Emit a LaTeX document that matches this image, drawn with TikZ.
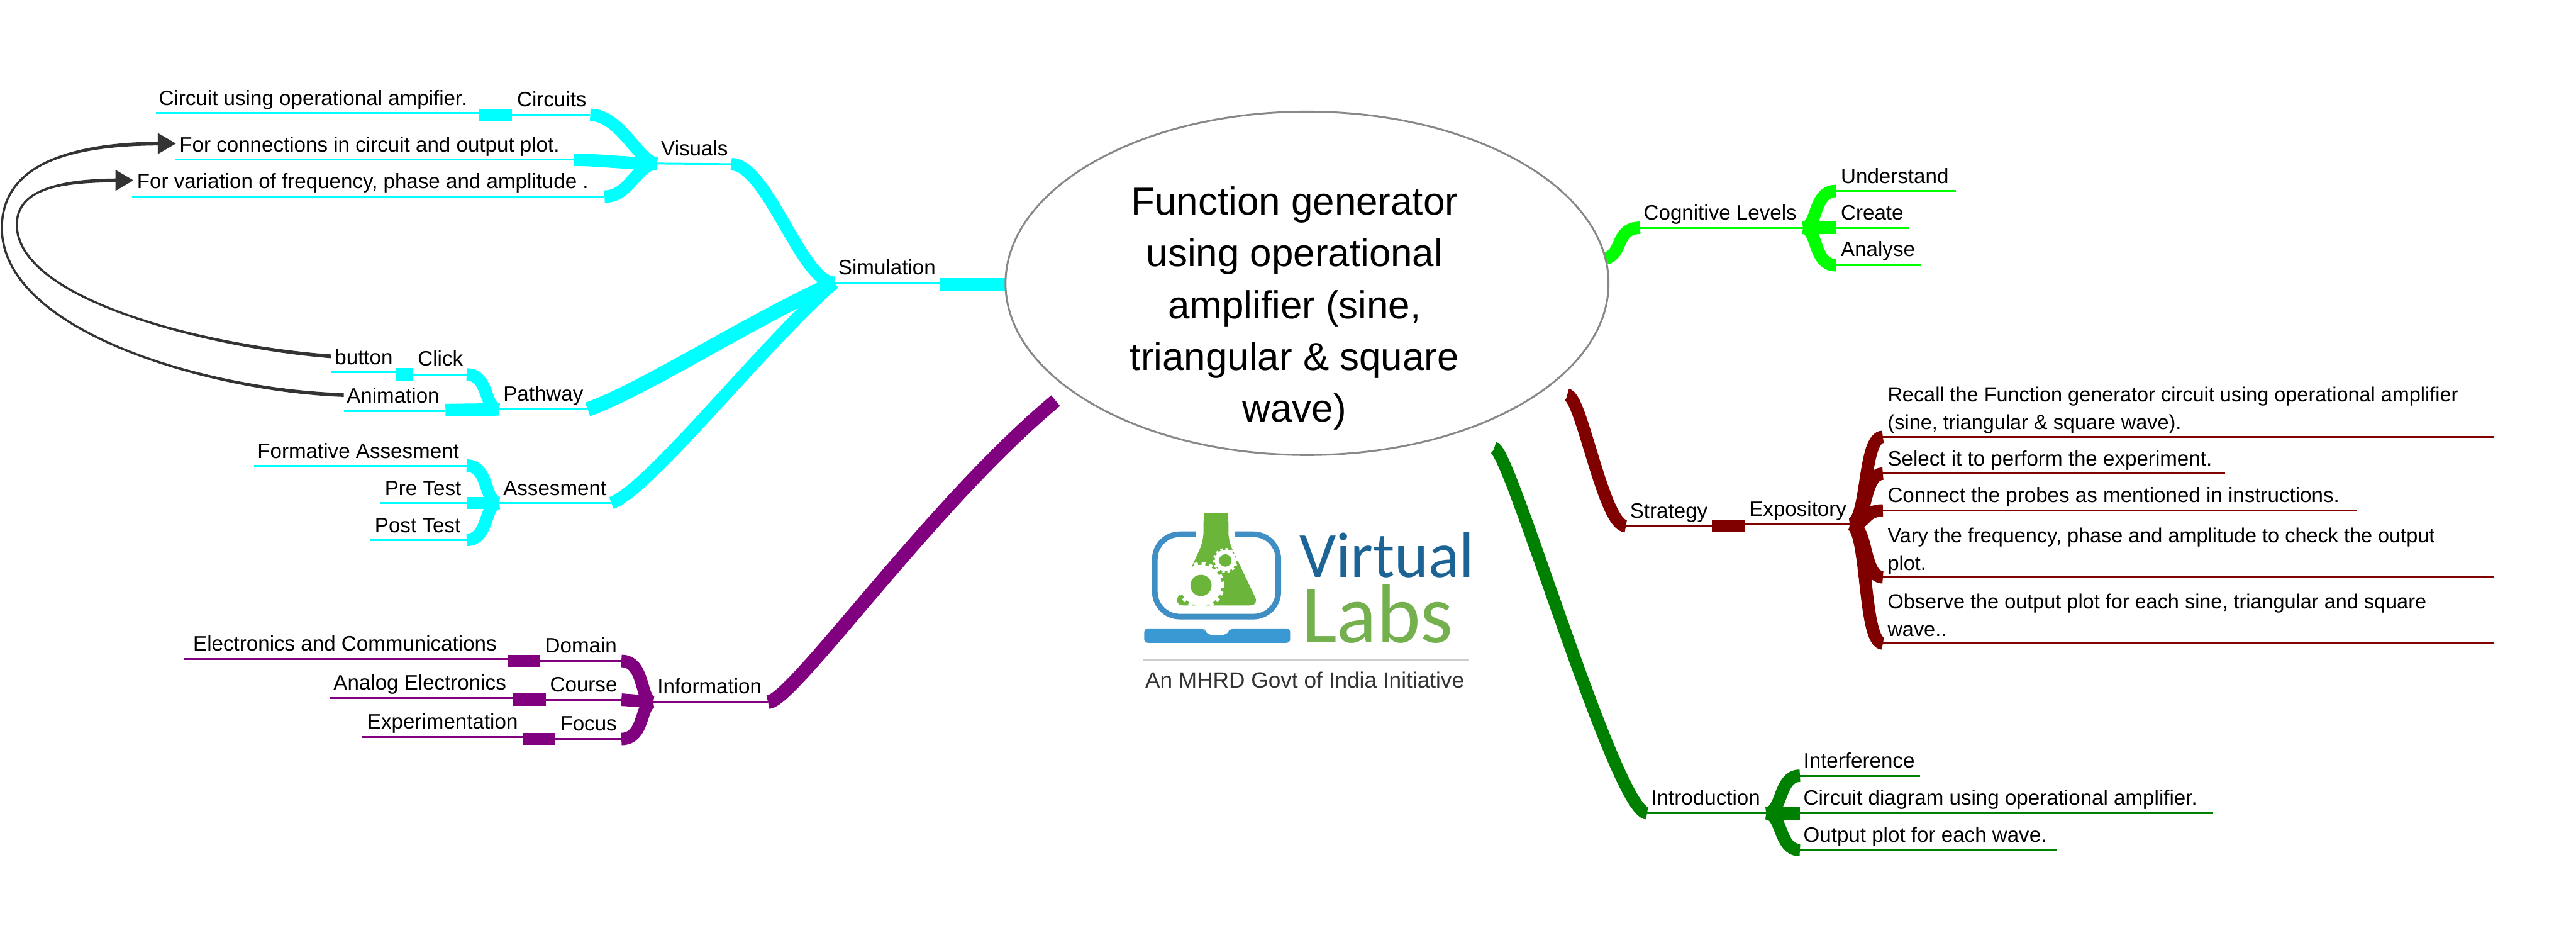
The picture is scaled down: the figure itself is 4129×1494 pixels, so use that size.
\documentclass[tikz,border=0pt]{standalone}
\usepackage{fontspec}
\setmainfont{Liberation Sans}
\newfontfamily\logofont{Carlito}
\usetikzlibrary{arrows.meta,shapes.geometric}
\definecolor{topicgray}{HTML}{888888}
\definecolor{linkgray}{HTML}{333333}
\definecolor{simcol}{HTML}{00FFFF}
\definecolor{infocol}{HTML}{800080}
\definecolor{cogcol}{HTML}{00FF00}
\definecolor{stratcol}{HTML}{800000}
\definecolor{introcol}{HTML}{008000}
\definecolor{vlblue}{HTML}{3F8FC4}
\definecolor{vlbase}{HTML}{3A98D2}
\definecolor{vlgreen}{HTML}{6AB53A}
\definecolor{vlnavy}{HTML}{1C6496}
\definecolor{vllabs}{HTML}{74B04E}
\begin{document}
\begin{tikzpicture}[
  x=0.01cm, y=-0.01cm,
  topic/.style={ellipse, draw=topicgray, line width=0.03cm, fill=white,
                minimum width=9.66cm, minimum height=5.5cm, inner sep=0pt},
  lbl/.style={anchor=base west, inner xsep=0.05cm, inner ysep=0pt, text height=0.33cm,
              text depth=0.07cm, yshift=-0.02cm, font=\fontsize{9.5}{12.5}\selectfont},
  note/.style={anchor=base west, inner xsep=0.05cm, inner ysep=0pt, align=left,
               yshift=-0.02cm, font=\fontsize{9.3}{12.7}\selectfont},
  branch/.style={line width=0.2cm, draw=#1},
  stem/.style={line width=0.03cm, draw=#1},
  link/.style={-{Triangle[length=0.29cm, width=0.33cm]}, line width=0.035cm, draw=linkgray}
]
  \useasboundingbox (0,0) rectangle (4129,1494);

  % Simulation
  \node[lbl] (simulation) at (1338,438) {Simulation};
  \node[lbl] (visuals) at (1054,247) {Visuals};
  \node[lbl] (circuits) at (823,169) {Circuits};
  \node[lbl] (opamp) at (249,167) {Circuit using operational ampifier.};
  \node[lbl] (forconn) at (282,241) {For connections in circuit and output plot.};
  \node[lbl] (forvar) at (214,300) {For variation of frequency, phase and amplitude .};
  \node[lbl] (pathway) at (801,641) {Pathway};
  \node[lbl] (click) at (664,584) {Click};
  \node[lbl] (button) at (531,582) {button};
  \node[lbl] (animation) at (550,644) {Animation};
  \node[lbl] (assesment) at (801,792) {Assesment};
  \node[lbl] (formative) at (407,732) {Formative Assesment};
  \node[lbl] (pretest) at (611,792) {Pre Test};
  \node[lbl] (posttest) at (595,851) {Post Test};

  \coordinate (simA) at (1337,453);
  \coordinate (simB) at (1507,453);
  \coordinate (simC) at (1507,456);
  \coordinate (simD) at (1620,456);
  \coordinate (visA) at (1053,262);
  \coordinate (visB) at (1172,263);
  \coordinate (cirA) at (946,184);
  \coordinate (cirB) at (821,184);
  \coordinate (cirC) at (821,184);
  \coordinate (cirD) at (768,184);
  \coordinate (cirE) at (768,181);
  \coordinate (cirF) at (250,181);
  \coordinate (conA) at (920,256);
  \coordinate (conB) at (281,256);
  \coordinate (varA) at (969,315);
  \coordinate (varB) at (212,315);
  \coordinate (patA) at (800,656);
  \coordinate (patB) at (942,656);
  \coordinate (cliA) at (748,600);
  \coordinate (cliB) at (662,600);
  \coordinate (cliC) at (635,600);
  \coordinate (cliD) at (635,596);
  \coordinate (cliE) at (531,596);
  \coordinate (aniA) at (714,657);
  \coordinate (aniB) at (714,659);
  \coordinate (aniC) at (551,659);
  \coordinate (assA) at (800,806);
  \coordinate (assB) at (980,806);
  \coordinate (forA) at (748,746);
  \coordinate (forB) at (407,746);
  \coordinate (preA) at (748,806);
  \coordinate (preB) at (609,806);
  \coordinate (posA) at (748,865);
  \coordinate (posB) at (593,865);

  \draw[stem=simcol] (simA) -- (simB);
  \draw[branch=simcol] (simC) -- (simD);
  \draw[branch=simcol] (visB) .. controls (1230,263) and (1285,453) .. (simA);
  \draw[stem=simcol] (visA) -- (visB);
  \draw[branch=simcol] (cirA) .. controls (995,184) and (1025,262) .. (visA);
  \draw[stem=simcol] (cirA) -- (cirB);
  \draw[branch=simcol] (cirC) -- (cirD);
  \draw[stem=simcol] (cirE) -- (cirF);
  \draw[branch=simcol] (conA) .. controls (960,256) and (1000,262) .. (visA);
  \draw[stem=simcol] (conA) -- (conB);
  \draw[branch=simcol] (varA) .. controls (1010,315) and (1020,262) .. (visA);
  \draw[stem=simcol] (varA) -- (varB);
  \draw[branch=simcol, line width=0.23cm] (patB) .. controls (1030,625) and (1200,515) .. (simA);
  \draw[stem=simcol] (patA) -- (patB);
  \draw[branch=simcol] (cliA) .. controls (785,600) and (775,656) .. (patA);
  \draw[stem=simcol] (cliA) -- (cliB);
  \draw[branch=simcol] (cliB) -- (cliC);
  \draw[stem=simcol] (cliD) -- (cliE);
  \draw[branch=simcol] (aniA) -- (patA);
  \draw[stem=simcol] (aniB) -- (aniC);
  \draw[branch=simcol] (assB) .. controls (1040,785) and (1225,550) .. (simA);
  \draw[stem=simcol] (assA) -- (assB);
  \draw[branch=simcol] (forA) .. controls (785,746) and (775,806) .. (assA);
  \draw[stem=simcol] (forA) -- (forB);
  \draw[branch=simcol] (preA) -- (assA);
  \draw[stem=simcol] (preA) -- (preB);
  \draw[branch=simcol] (posA) .. controls (785,865) and (775,806) .. (assA);
  \draw[stem=simcol] (posA) -- (posB);

  % Liens
  \coordinate (loopA) at (3,365);
  \coordinate (loopB) at (27,360);
  \draw[link] (animation.west) .. controls (330,625) and (3,530) .. (loopA)
    .. controls (3,270) and (100,230) .. (forconn.west);
  \draw[link] (button.west) .. controls (330,555) and (27,480) .. (loopB)
    .. controls (27,310) and (80,289) .. (forvar.west);
  \fill[linkgray] (551,630) .. controls (330,623) and (3,530) .. (loopA)
    .. controls (3,530) and (330,628) .. (551,636) -- cycle;
  \fill[linkgray] (loopA) .. controls (3,270) and (100,227) .. (260,227)
    -- (260,233) .. controls (100,233) and (3,270) .. (loopA) -- cycle;
  \fill[linkgray] (531,568) .. controls (330,553) and (27,480) .. (loopB)
    .. controls (27,480) and (330,558) .. (531,574) -- cycle;
  \fill[linkgray] (loopB) .. controls (27,310) and (80,286) .. (190,286)
    -- (190,292) .. controls (80,292) and (27,310) .. (loopB) -- cycle;

  % Information
  \node[lbl] (information) at (1048,1109) {Information};
  \node[lbl] (domain) at (868,1044) {Domain};
  \node[lbl] (course) at (876,1106) {Course};
  \node[lbl] (focus) at (892,1169) {Focus};
  \node[lbl] (electronics) at (304,1041) {Electronics and Communications};
  \node[lbl] (analog) at (529,1103) {Analog Electronics};
  \node[lbl] (experiment) at (583,1166) {Experimentation};

  \coordinate (infA) at (1047,1125);
  \coordinate (infB) at (1231,1125);
  \coordinate (infC) at (1692,642);
  \coordinate (domA) at (996,1059);
  \coordinate (domB) at (865,1059);
  \coordinate (domC) at (813,1059);
  \coordinate (domD) at (813,1056);
  \coordinate (domE) at (294,1056);
  \coordinate (couA) at (996,1121);
  \coordinate (couB) at (875,1121);
  \coordinate (couC) at (822,1121);
  \coordinate (couD) at (822,1118);
  \coordinate (couE) at (529,1118);
  \coordinate (focA) at (996,1184);
  \coordinate (focB) at (890,1184);
  \coordinate (focC) at (838,1184);
  \coordinate (focD) at (838,1181);
  \coordinate (focE) at (581,1181);

  \draw[branch=infocol, line width=0.22cm] (infB) .. controls (1270,1125) and (1490,810) .. (infC);
  \draw[stem=infocol] (infA) -- (infB);
  \draw[branch=infocol] (domA) .. controls (1035,1059) and (1025,1125) .. (infA);
  \draw[branch=infocol] (couA) -- (infA);
  \draw[branch=infocol] (focA) .. controls (1035,1184) and (1025,1125) .. (infA);
  \draw[stem=infocol] (domA) -- (domB);
  \draw[branch=infocol] (domB) -- (domC);
  \draw[stem=infocol] (domD) -- (domE);
  \draw[stem=infocol] (couA) -- (couB);
  \draw[branch=infocol] (couB) -- (couC);
  \draw[stem=infocol] (couD) -- (couE);
  \draw[stem=infocol] (focA) -- (focB);
  \draw[branch=infocol] (focB) -- (focC);
  \draw[stem=infocol] (focD) -- (focE);

  % Cognitive Levels
  \node[lbl] (cognitive) at (2629,350) {Cognitive Levels};
  \node[lbl] (understand) at (2945,292) {Understand};
  \node[lbl] (create) at (2945,350) {Create};
  \node[lbl] (analyse) at (2945,409) {Analyse};

  \coordinate (cogA) at (2565,415);
  \coordinate (cogB) at (2629,365);
  \coordinate (cogC) at (2890,365);
  \coordinate (undA) at (2943,306);
  \coordinate (undB) at (3135,306);
  \coordinate (creA) at (2943,365);
  \coordinate (creB) at (3060,365);
  \coordinate (anaA) at (2943,425);
  \coordinate (anaB) at (3079,425);

  \draw[branch=cogcol] (cogA) .. controls (2605,415) and (2585,365) .. (cogB);
  \draw[stem=cogcol] (cogB) -- (cogC);
  \draw[branch=cogcol] (cogC) .. controls (2915,365) and (2905,306) .. (undA);
  \draw[branch=cogcol] (cogC) -- (creA);
  \draw[branch=cogcol] (cogC) .. controls (2915,365) and (2905,425) .. (anaA);
  \draw[stem=cogcol] (undA) -- (undB);
  \draw[stem=cogcol] (creA) -- (creB);
  \draw[stem=cogcol] (anaA) -- (anaB);

  % Strategy
  \node[lbl] (strategy) at (2607,828) {Strategy};
  \node[lbl] (expository) at (2798,825) {Expository};
  \node[note] (recall) at (3020,686) {Recall the Function generator circuit using operational amplifier\\(sine, triangular \& square wave).};
  \node[lbl] (selectit) at (3020,744) {Select it to perform the experiment.};
  \node[lbl] (probes) at (3020,803) {Connect the probes as mentioned in instructions.};
  \node[note] (vary) at (3020,912) {Vary the frequency, phase and amplitude to check the output\\plot.};
  \node[note] (observe) at (3020,1018) {Observe the output plot for each sine, triangular and square\\wave..};

  \coordinate (strA) at (2512,633);
  \coordinate (strB) at (2606,843);
  \coordinate (strC) at (2744,843);
  \coordinate (expA) at (2796,843);
  \coordinate (expB) at (2796,840);
  \coordinate (expC) at (2965,840);
  \coordinate (recA) at (3018,700);
  \coordinate (recB) at (3997,700);
  \coordinate (selA) at (3018,759);
  \coordinate (selB) at (3566,759);
  \coordinate (proA) at (3018,818);
  \coordinate (proB) at (3778,818);
  \coordinate (varyA) at (3018,925);
  \coordinate (varyB) at (3997,925);
  \coordinate (obsA) at (3018,1031);
  \coordinate (obsB) at (3997,1031);

  \draw[branch=stratcol] (strA) .. controls (2535,633) and (2570,843) .. (strB);
  \draw[stem=stratcol] (strB) -- (strC);
  \draw[branch=stratcol] (strC) -- (expA);
  \draw[stem=stratcol] (expB) -- (expC);
  \draw[branch=stratcol] (expC) .. controls (2995,840) and (2985,700) .. (recA);
  \draw[branch=stratcol] (expC) .. controls (2995,840) and (2985,759) .. (selA);
  \draw[branch=stratcol] (expC) .. controls (2995,840) and (2985,818) .. (proA);
  \draw[branch=stratcol] (expC) .. controls (2995,840) and (2985,925) .. (varyA);
  \draw[branch=stratcol] (expC) .. controls (2995,840) and (2985,1031) .. (obsA);
  \draw[stem=stratcol] (recA) -- (recB);
  \draw[stem=stratcol] (selA) -- (selB);
  \draw[stem=stratcol] (proA) -- (proB);
  \draw[stem=stratcol] (varyA) -- (varyB);
  \draw[stem=stratcol] (obsA) -- (obsB);

  % Introduction
  \node[lbl] (introduction) at (2641,1288) {Introduction};
  \node[lbl] (interference) at (2885,1228) {Interference};
  \node[lbl] (diagram) at (2885,1288) {Circuit diagram using operational amplifier.};
  \node[lbl] (output) at (2885,1347) {Output plot for each wave.};

  \coordinate (intA) at (2395,718);
  \coordinate (intB) at (2640,1303);
  \coordinate (intC) at (2831,1303);
  \coordinate (ifeA) at (2885,1243);
  \coordinate (ifeB) at (3078,1243);
  \coordinate (diaA) at (2885,1303);
  \coordinate (diaB) at (3547,1303);
  \coordinate (outA) at (2885,1362);
  \coordinate (outB) at (3296,1362);

  \draw[branch=introcol] (intA) .. controls (2420,718) and (2590,1303) .. (intB);
  \draw[stem=introcol] (intB) -- (intC);
  \draw[branch=introcol] (intC) .. controls (2858,1303) and (2850,1243) .. (ifeA);
  \draw[branch=introcol] (intC) -- (diaA);
  \draw[branch=introcol] (intC) .. controls (2858,1303) and (2850,1362) .. (outA);
  \draw[stem=introcol] (ifeA) -- (ifeB);
  \draw[stem=introcol] (diaA) -- (diaB);
  \draw[stem=introcol] (outA) -- (outB);

  % Sujet central
  \node[topic] (centre) at (2095,454) {};
  \node[align=center, inner sep=0pt, font=\fontsize{17.75}{23.6}\selectfont] (title) at (2075,494)
    {Function generator\\using operational\\amplifier (sine,\\triangular \& square\\wave)};

  % Logo
  \draw[vlblue, line width=0.09cm, rounded corners=0.4cm]
    (1917,856) -- (1851,856) -- (1851,988) -- (2049,988) -- (2049,856) -- (1980,856);
  \fill[vlbase, rounded corners=0.06cm]
    (1834,1007) -- (1931,1007) -- (1931,1012) -- (1940,1018) -- (1962,1018) -- (1971,1012)
    -- (1971,1007) -- (2068,1007) -- (2068,1030) -- (1834,1030) -- cycle;
  \fill[vlgreen, rounded corners=0.14cm]
    (1929,823) -- (1969,823) -- (1969,867) -- (2018,970) -- (1882,970) -- (1929,867) -- cycle;
  \fill[vlgreen] (1929,823) rectangle (1969,850);
  \fill[white] (1925,938) circle [radius=0.33cm];
  \draw[white, line width=0.05cm, dash pattern=on 0.06cm off 0.06cm] (1925,938) circle [radius=0.35cm];
  \fill[vlgreen] (1925,938) circle [radius=0.17cm];
  \fill[white] (1964,898) circle [radius=0.17cm];
  \draw[white, line width=0.04cm, dash pattern=on 0.04cm off 0.04cm] (1964,898) circle [radius=0.18cm];
  \fill[vlgreen] (1964,898) circle [radius=0.1cm];
  \node[anchor=base west, inner sep=0pt, vlnavy, font=\logofont\fontsize{29.4}{29.4}\selectfont] (virtual) at (2082,925) {Virtual};
  \node[anchor=base west, inner sep=0pt, vllabs, font=\logofont\fontsize{38}{38}\selectfont] (labs) at (2086,1030) {Labs};
  \draw[gray!40, line width=0.02cm] (1833,1057) -- (2355,1057);
  \node[anchor=base west, inner sep=0pt, text=black!80, font=\fontsize{10.1}{12}\selectfont] (mhrd) at (1835,1102) {An MHRD Govt of India Initiative};
\end{tikzpicture}
\end{document}
